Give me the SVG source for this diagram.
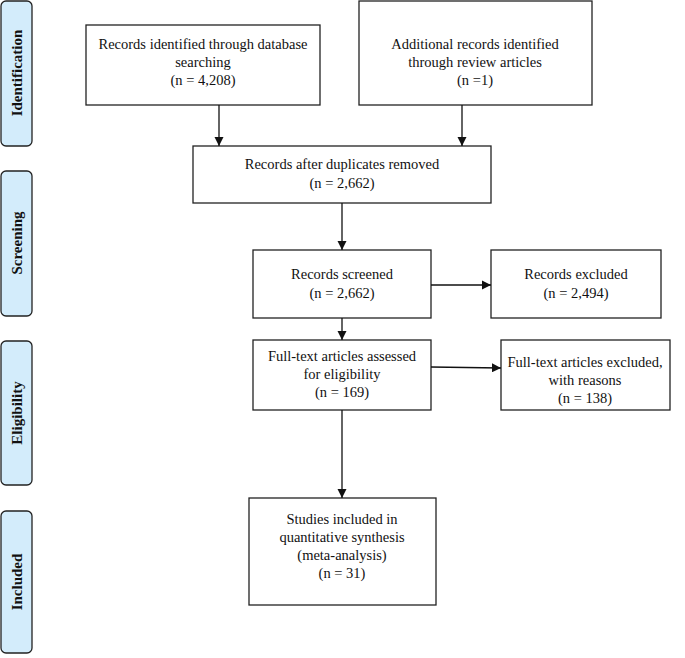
<svg xmlns="http://www.w3.org/2000/svg" width="685" height="658" viewBox="0 0 685 658">
<style>
.b{fill:#fff;stroke:#222;stroke-width:1.3}
.s{fill:#d3ecfb;stroke:#222;stroke-width:1.3}
text{font-family:"Liberation Serif",serif;font-size:14.5px;fill:#111;text-anchor:middle}
.l{font-weight:bold;font-size:15px}
.c line{stroke:#111;stroke-width:1.3;marker-end:url(#a)}
</style>
<defs><marker id="a" viewBox="0 0 10 10" refX="10" refY="5" markerWidth="7" markerHeight="7" orient="auto"><path d="M0,0L10,5L0,10z" fill="#111"/></marker></defs>
<rect width="685" height="658" fill="#fff"/>
<g id="s1"><rect class="s" x="1" y="1" width="31" height="145" rx="5"/><text class="l" transform="translate(22,73) rotate(-90)">Identification</text></g>
<g id="s2"><rect class="s" x="1" y="171" width="31" height="145" rx="5"/><text class="l" transform="translate(22,243) rotate(-90)">Screening</text></g>
<g id="s3"><rect class="s" x="1" y="341" width="31" height="144" rx="5"/><text class="l" transform="translate(22,413) rotate(-90)">Eligibility</text></g>
<g id="s4"><rect class="s" x="1" y="511" width="31" height="142" rx="5"/><text class="l" transform="translate(22,582) rotate(-90)">Included</text></g>
<g id="n1"><rect class="b" x="86" y="25" width="234" height="80"/><text x="203" y="49">Records identified through database</text><text x="203" y="67">searching</text><text x="203" y="85">(n = 4,208)</text></g>
<g id="n2"><rect class="b" x="359" y="1" width="233" height="104"/><text x="475" y="49">Additional records identified</text><text x="475" y="67">through review articles</text><text x="475" y="85">(n =1)</text></g>
<g id="n3"><rect class="b" x="193" y="146" width="298" height="57"/><text x="342" y="169">Records after duplicates removed</text><text x="342" y="188">(n = 2,662)</text></g>
<g id="n4"><rect class="b" x="253" y="250" width="178" height="68"/><text x="342" y="279">Records screened</text><text x="342" y="298">(n = 2,662)</text></g>
<g id="n5"><rect class="b" x="491" y="250" width="170" height="68"/><text x="576" y="279">Records excluded</text><text x="576" y="298">(n = 2,494)</text></g>
<g id="n6"><rect class="b" x="253" y="340" width="178" height="70"/><text x="342" y="361">Full-text articles assessed</text><text x="342" y="379">for eligibility</text><text x="342" y="397">(n = 169)</text></g>
<g id="n7"><rect class="b" x="501" y="340" width="169" height="70"/><text x="585" y="367">Full-text articles excluded,</text><text x="585" y="385">with reasons</text><text x="585" y="403">(n = 138)</text></g>
<g id="n8"><rect class="b" x="249" y="498" width="187" height="107"/><text x="342" y="524">Studies included in</text><text x="342" y="542">quantitative synthesis</text><text x="342" y="560">(meta-analysis)</text><text x="342" y="578">(n = 31)</text></g>
<g class="c" id="connectors">
<line x1="219" y1="105" x2="219" y2="146"/>
<line x1="462" y1="105" x2="462" y2="146"/>
<line x1="342" y1="203" x2="342" y2="250"/>
<line x1="431" y1="285" x2="491" y2="285"/>
<line x1="342" y1="318" x2="342" y2="340"/>
<line x1="431" y1="367" x2="501" y2="368"/>
<line x1="342" y1="410" x2="342" y2="498"/>
</g>
</svg>
